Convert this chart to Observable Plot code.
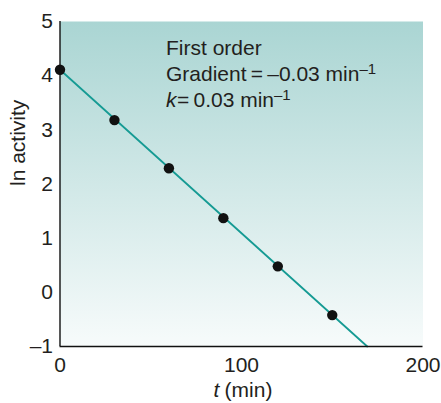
<!DOCTYPE html>
<html><head><meta charset="utf-8">
<script src="https://cdn.jsdelivr.net/npm/d3@7"></script>
<script src="https://cdn.jsdelivr.net/npm/@observablehq/plot@0.6"></script>
<style>
body{margin:0;background:#fff;} svg{display:block;}
g[aria-label="x-axis tick label"] text, g[aria-label="y-axis tick label"] text { font-size: 21px !important; }
</style>
</head><body><div id="chart"></div>
<script>
const times = [0, 30, 60, 90, 120, 150];
const lnActivity = [4.11, 3.18, 2.29, 1.37, 0.48, -0.42];
const fitX = [0, 169.3];
const fitY = [4.11, -1];
const xTicks = [0, 100, 200];
const yTicks = [-1, 0, 1, 2, 3, 4, 5];
const noteLines = ["First order", "Gradient\u2009=\u2009–0.03 min", "=\u20090.03 min"];
const supText = "–1";

const pts = times.map((t, i) => ({t, v: lnActivity[i]}));
const fit = fitX.map((t, i) => ({t, v: fitY[i]}));

const defs = () => {
  const d = d3.create("svg:defs");
  const g = d.append("linearGradient").attr("id", "bg").attr("x1", 0).attr("y1", 0).attr("x2", 0).attr("y2", 1);
  g.append("stop").attr("offset", "0%").attr("stop-color", "#aad5d3");
  g.append("stop").attr("offset", "100%").attr("stop-color", "#f7fbfb");
  return d.node();
};

const fmt = d => d < 0 ? "–" + Math.abs(d) : String(d);
const font = "'Liberation Sans', Arial, Helvetica, sans-serif";
const ink = "#231f20";
const fs = 21;
const chart = Plot.plot({
  width: 441, height: 403,
  marginLeft: 59.5, marginRight: 18.5, marginTop: 21, marginBottom: 57,
  style: {fontFamily: font, fontSize: fs + "px", color: ink, background: "#fff"},
  x: {domain: [0, 200], label: null},
  y: {domain: [-1, 5], label: null},
  marks: [
    defs,
    Plot.frame({fill: "url(#bg)", stroke: "none"}),
    Plot.line(fit, {x: "t", y: "v", stroke: "#169b94", strokeWidth: 1.8}),
    Plot.dot(pts, {x: "t", y: "v", r: 5.2, fill: "#111", stroke: "none"}),
    Plot.ruleX([0], {stroke: "#111", strokeWidth: 1.4}),
    Plot.ruleY([-1], {stroke: "#111", strokeWidth: 1.4}),
    Plot.axisX({ticks: xTicks, tickSize: 0, tickPadding: 11, tickFormat: fmt, label: null}),
    Plot.axisY({ticks: yTicks, tickSize: 0, tickPadding: 7, tickFormat: fmt, label: null}),
    Plot.text([noteLines[0]], {frameAnchor: "top-left", dx: 106, dy: 19, text: d => d, textAnchor: "start", lineAnchor: "top", fontSize: fs, fill: ink}),
    Plot.text([noteLines[1]], {frameAnchor: "top-left", dx: 106, dy: 45, text: d => d, textAnchor: "start", lineAnchor: "top", fontSize: fs, fill: ink, className: "sup"}),
    Plot.text(["k"], {frameAnchor: "top-left", dx: 106, dy: 71, text: d => d, textAnchor: "start", lineAnchor: "top", fontSize: fs, fontStyle: "italic", fill: ink}),
    Plot.text([noteLines[2]], {frameAnchor: "top-left", dx: 117, dy: 71, text: d => d, textAnchor: "start", lineAnchor: "top", fontSize: fs, fill: ink, className: "sup"}),
    Plot.text(["ln activity"], {frameAnchor: "left", dx: -42, dy: 2, text: d => d, rotate: -90, fontSize: fs, fill: ink}),
    Plot.text(["t"], {frameAnchor: "bottom", dx: -25, dy: 50, text: d => d, fontSize: fs, fontStyle: "italic", fill: ink}),
    Plot.text(["(min)"], {frameAnchor: "bottom", dx: 7, dy: 50, text: d => d, fontSize: fs, fill: ink})
  ]
});
// superscript "–1" after "min"
chart.querySelectorAll("g.sup text").forEach(t => {
  const ts = document.createElementNS("http://www.w3.org/2000/svg", "tspan");
  ts.setAttribute("font-size", "15");
  ts.setAttribute("dy", "-7");
  ts.textContent = supText;
  t.appendChild(ts);
});
document.getElementById("chart").append(chart);
</script></body></html>
